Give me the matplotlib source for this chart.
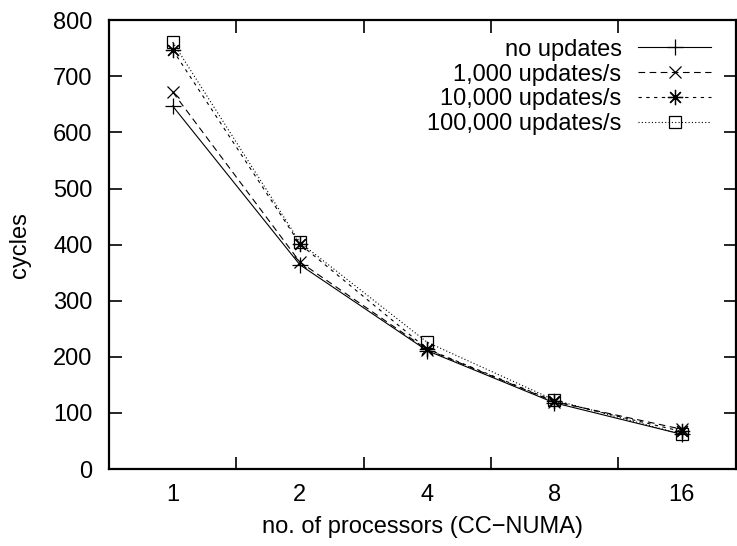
import numpy as np
import matplotlib.pyplot as plt
from matplotlib.ticker import FixedLocator, NullFormatter

plt.rcParams['font.family'] = ['Liberation Sans', 'DejaVu Sans']
plt.rcParams['font.size'] = 17

# data
procs = ['1', '2', '4', '8', '16']
no_upd = [647, 364, 211, 118, 62]
upd_1k = [672, 369, 213, 120, 71]
upd_10k = [747, 401, 214, 121, 67]
upd_100k = [761, 404, 226, 123, 62]
labels = ['no updates', '1,000 updates/s', '10,000 updates/s', '100,000 updates/s']

x = np.arange(1, len(procs) + 1)

fig = plt.figure(figsize=(7.37, 5.46), dpi=100)
ax = fig.add_axes([0.148, 0.141, 0.851, 0.822])

ax.plot(x, no_upd, color='black', lw=0.8, ls='-', marker='+', ms=12, mew=0.9, label=labels[0])
ax.plot(x, upd_1k, color='black', lw=0.8, ls=(0, (6, 4)), marker='x', ms=9, mew=0.9, label=labels[1])
ax.plot(x, upd_10k, color='black', lw=0.8, ls=(0, (3, 4)), marker=(8, 2, 0), ms=11, mew=0.9, label=labels[2])
ax.plot(x, upd_100k, color='black', lw=0.8, ls=(0, (1, 2)), marker='s', ms=9, mew=0.9,
        mfc='none', label=labels[3])

ax.set_xlim(0.5, 5.43)
ax.set_ylim(0, 800)
ax.set_yticks(np.arange(0, 801, 100))

# gnuplot-ish: tick marks between categories, labels under categories
ax.xaxis.set_major_locator(FixedLocator([1.5, 2.5, 3.5, 4.5]))
ax.xaxis.set_major_formatter(NullFormatter())
ax.xaxis.set_minor_locator(FixedLocator(x))
ax.set_xticklabels(procs, minor=True)
ax.tick_params(axis='x', which='minor', length=0, pad=11)
ax.tick_params(axis='both', which='major', direction='in', length=9, width=1.2,
               top=True, right=True)
ax.tick_params(axis='y', which='major', pad=12)

for s in ax.spines.values():
    s.set_linewidth(1.6)

ax.set_xlabel('no. of processors (CC\u2212NUMA)', labelpad=7)
ax.set_ylabel('cycles', labelpad=16)

ax.legend(loc='upper right', bbox_to_anchor=(0.979, 0.985), frameon=False, markerfirst=False,
          handlelength=3.1, handletextpad=0.7, labelspacing=0.12, borderpad=0, fontsize=17)

plt.savefig('out.png', dpi=100)
